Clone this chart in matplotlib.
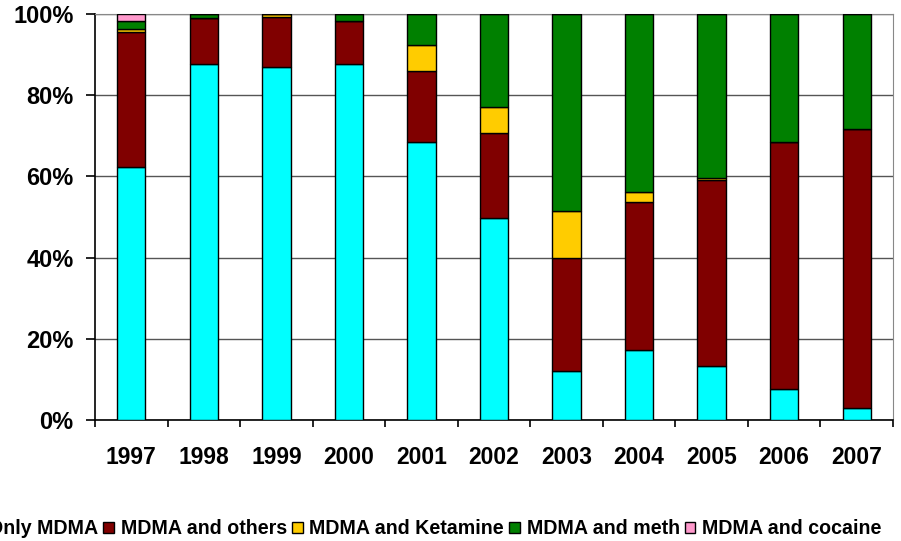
import numpy as np
import matplotlib.pyplot as plt
from matplotlib.ticker import PercentFormatter

years = ['1997', '1998', '1999', '2000', '2001', '2002', '2003', '2004', '2005', '2006', '2007']
only_mdma = [62.2, 87.7, 87.0, 87.7, 68.5, 49.7, 12.1, 17.3, 13.4, 7.6, 2.9]
mdma_others = [33.3, 11.3, 12.2, 10.6, 17.5, 20.9, 27.8, 36.3, 45.7, 60.9, 68.8]
mdma_ketamine = [0.7, 0.0, 0.8, 0.0, 6.4, 6.4, 11.7, 2.5, 0.6, 0.0, 0.0]
mdma_meth = [2.0, 1.0, 0.0, 1.7, 7.6, 23.0, 48.4, 43.9, 40.3, 31.5, 28.3]
mdma_cocaine = [1.8, 0.0, 0.0, 0.0, 0.0, 0.0, 0.0, 0.0, 0.0, 0.0, 0.0]

series = [
    ('Only MDMA', only_mdma, '#00FFFF'),
    ('MDMA and others', mdma_others, '#800000'),
    ('MDMA and Ketamine', mdma_ketamine, '#FFCC00'),
    ('MDMA and meth', mdma_meth, '#008000'),
    ('MDMA and cocaine', mdma_cocaine, '#FF99CC'),
]

plt.rcParams['font.family'] = ['Liberation Sans', 'DejaVu Sans']
plt.rcParams['font.weight'] = 'bold'

fig = plt.figure(figsize=(9.01, 5.41), dpi=100)
ax = fig.add_axes([95 / 901, 1 - 420 / 541, 798 / 901, 406 / 541])

x = np.arange(len(years))
bottom = np.zeros(len(years))
for name, vals, color in series:
    vals = np.array(vals)
    ax.bar(x, vals, width=0.39, bottom=bottom, color=color,
           edgecolor='black', linewidth=1, label=name, zorder=3)
    bottom += vals

ax.set_xlim(-0.5, len(years) - 0.5)
ax.set_ylim(0, 100)
ax.set_yticks([0, 20, 40, 60, 80, 100])
ax.yaxis.set_major_formatter(PercentFormatter(decimals=0))
ax.grid(axis='y', color='#555555', linewidth=1, zorder=0)

ax.set_xticks(x)
ax.set_xticklabels(years)
ax.set_xticks(np.arange(-0.5, len(years)), minor=True)
ax.tick_params(axis='x', which='major', length=0, pad=19, labelsize=16.5)
ax.tick_params(axis='x', which='minor', length=5, width=1.2)
ax.tick_params(axis='y', length=6.5, width=1.2, labelsize=17, pad=9)

for s in ['left', 'bottom']:
    ax.spines[s].set_color('black')
    ax.spines[s].set_linewidth(1.2)
for s in ['top', 'right']:
    ax.spines[s].set_color('#888888')

# legend deliberately overflows the left edge, as in the original
leg = fig.legend(loc='center', bbox_to_anchor=(426 / 901, 1 - 529 / 541), ncol=5,
                 frameon=False, fontsize=14.1, handlelength=0.55, handleheight=0.55,
                 handletextpad=0.35, columnspacing=0.25)
for h in leg.legend_handles:
    h.set_linewidth(1)

fig.savefig('out.png', dpi=100)
